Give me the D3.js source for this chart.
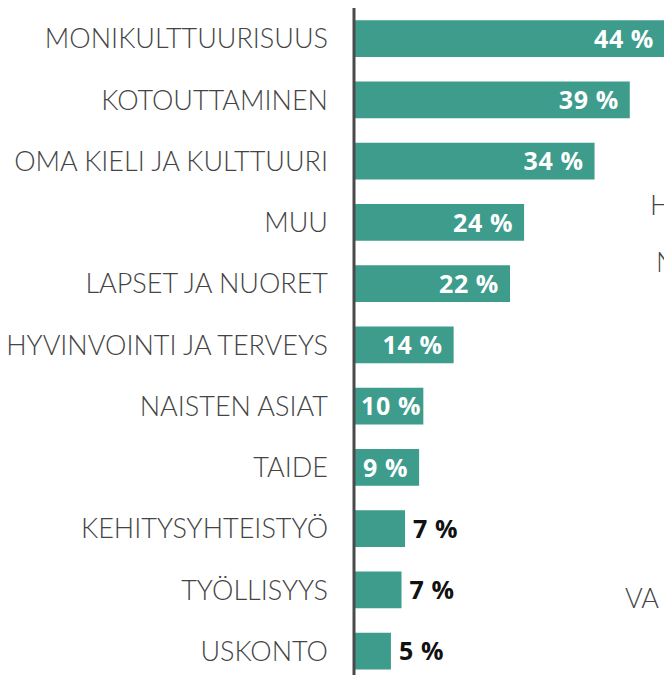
<!DOCTYPE html>
<html>
<head>
<meta charset="utf-8">
<script src="https://cdn.jsdelivr.net/npm/d3@7"></script>
<style>
  body { margin: 0; background: #fff; overflow: hidden; }
  svg { display: block; }
</style>
</head>
<body>
<div id="chart"></div>
<script>
// chart data
var categories = ["MONIKULTTUURISUUS", "KOTOUTTAMINEN", "OMA KIELI JA KULTTUURI", "MUU",
  "LAPSET JA NUORET", "HYVINVOINTI JA TERVEYS", "NAISTEN ASIAT", "TAIDE",
  "KEHITYSYHTEISTYÖ", "TYÖLLISYYS", "USKONTO"];
var values = [44, 39, 34, 24, 22, 14, 9.7, 9.1, 7.1, 6.6, 5.1];
var valueLabels = ["44 %", "39 %", "34 %", "24 %", "22 %", "14 %", "10 %", "9 %", "7 %", "7 %", "5 %"];
// bits of neighbouring text cut off at the right edge
var sideTexts = ["H", "N", "VA"];

var svgWidth = 664;
var svgHeight = 675;

var data = categories.map(function(c, i) {
  return { cat: c, value: values[i], label: valueLabels[i] };
});

var svg = d3.select("#chart")
  .append("svg")
  .attr("width", svgWidth)
  .attr("height", svgHeight);

var xScale = d3.scaleLinear()
  .domain([0, 44])
  .range([355, 665]);

var yScale = d3.scaleBand()
  .domain(categories)
  .range([8, 681.75])
  .paddingInner(0.4)
  .paddingOuter(0.2);

// bars
svg.selectAll("rect.bar")
  .data(data)
  .enter()
  .append("rect")
  .attr("class", "bar")
  .attr("x", xScale(0))
  .attr("y", d => yScale(d.cat))
  .attr("width", d => xScale(d.value) - xScale(0))
  .attr("height", yScale.bandwidth())
  .attr("fill", "#3d9c8c");

// category labels
svg.selectAll("text.cat")
  .data(data)
  .enter()
  .append("text")
  .attr("class", "cat")
  .attr("x", 328)
  .attr("y", d => yScale(d.cat) + yScale.bandwidth() / 2)
  .attr("dy", "0.36em")
  .attr("text-anchor", "end")
  .attr("font-family", "Lato, 'Open Sans', sans-serif")
  .attr("font-weight", 300)
  .attr("font-size", "27px")
  .attr("fill", "#444444")
  .text(d => d.cat);

// value labels: inside (white) for long bars, outside (black) for short ones
var valText = svg.selectAll("text.val")
  .data(data)
  .enter()
  .append("text")
  .attr("class", "val")
  .attr("y", d => yScale(d.cat) + yScale.bandwidth() / 2)
  .attr("dy", "0.37em")
  .attr("font-family", "'Open Sans', Lato, sans-serif")
  .attr("font-weight", "bold")
  .attr("font-size", "25px")
  .attr("letter-spacing", "0.6px")
  .attr("fill", d => d.value > 8 ? "#ffffff" : "#111111")
  .text(d => d.label);

valText.each(function(d) {
  var w = this.getComputedTextLength();
  var x;
  if (d.value > 8) {
    x = Math.max(xScale(d.value) - 11 - w, 361);
  } else {
    x = xScale(d.value) + 8;
  }
  d3.select(this).attr("x", x);
});

// axis line
svg.append("line")
  .attr("x1", 354)
  .attr("x2", 354)
  .attr("y1", 8)
  .attr("y2", svgHeight)
  .attr("stroke", "#4a4a4a")
  .attr("stroke-width", 3);

// cut-off text from the right
var sideX = [650, 656, 625];
var sideY = [205, 262, 598];
svg.selectAll("text.side")
  .data(sideTexts)
  .enter()
  .append("text")
  .attr("class", "side")
  .attr("x", (d, i) => sideX[i])
  .attr("y", (d, i) => sideY[i])
  .attr("dy", "0.36em")
  .attr("font-family", "Lato, 'Open Sans', sans-serif")
  .attr("font-weight", 300)
  .attr("font-size", "27px")
  .attr("fill", "#444444")
  .text(d => d);
</script>
</body>
</html>
